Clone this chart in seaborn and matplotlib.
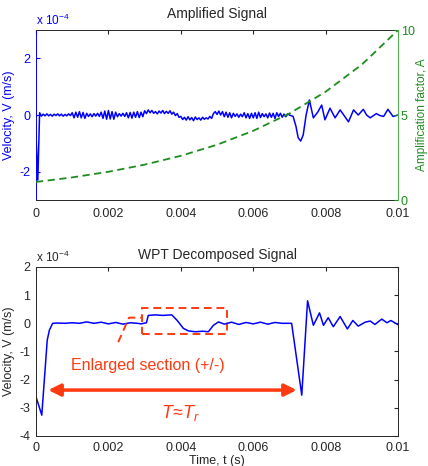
import numpy as np
import pandas as pd
import matplotlib
matplotlib.use('Agg')
import matplotlib.pyplot as plt
import matplotlib.patches as patches
import seaborn as sns

# velocities in units of 1e-4 m/s
# amplified signal, regular part: 0 .. 0.00695 s, step 0.00005 s
amp_noise = [
    -0.7, -2.3, 0.08, -0.04, 0.03, -0.03, 0.04, -0.03, 0.02, -0.04, 0.03, -0.02, 0.04, -0.03, 0.03, -0.04, 0.02, -0.03, 0.04, -0.02,
    0.08, -0.1, 0.1, -0.08, 0.12, -0.1, 0.09, -0.12, 0.06, -0.05, 0.04, -0.06, 0.05, -0.04, 0.06, -0.05, 0.1, -0.12, 0.14, -0.15,
    0.16, -0.14, 0.12, -0.15, 0.1, -0.06, 0.05, -0.04, 0.06, -0.05, 0.08, -0.1, 0.09, -0.11, 0.1, -0.08, 0.12, -0.09, 0.1, -0.06,
    0.15, 0.05, 0.18, 0.08, 0.16, 0.06, 0.12, 0.04, 0.14, 0.07, 0.16, 0.05, 0.13, 0.06, 0.15, 0.03, 0.1, -0.02, 0.05, -0.08,
    -0.05, -0.16, -0.08, -0.18, -0.06, -0.17, -0.09, -0.2, -0.07, -0.16, -0.1, -0.18, -0.08, -0.15, -0.1, -0.14, -0.05, -0.12, 0.05, 0.12,
    0.02, 0.14, 0.0, 0.12, -0.06, 0.1, -0.08, 0.08, -0.1, 0.06, -0.05, 0.04, -0.08, 0.03, -0.06, 0.08, -0.1, 0.05, -0.12, 0.06,
    -0.1, 0.08, -0.12, 0.1, -0.09, 0.05, -0.06, 0.04, -0.1, 0.07, -0.08, 0.06, -0.12, 0.08, -0.05, 0.06, -0.08, 0.03, -0.06, 0.04,
]
# amplified signal, arrival of the reflection
amp_evt_t = [0.0070, 0.00710, 0.00718, 0.00724, 0.00731, 0.00738, 0.00746, 0.00755, 0.00766, 0.00778,
             0.00789, 0.00798, 0.00812, 0.00826, 0.0084, 0.0085, 0.00863, 0.00877, 0.0089, 0.00904,
             0.00913, 0.00923, 0.0094, 0.0095, 0.0096, 0.00972, 0.00986, 0.0100]
amp_evt_v = [0.0, -0.05, -0.4, -0.8, -0.92, -0.7, 0.0, 0.53, -0.1, 0.1,
             0.35, -0.17, 0.24, -0.1, 0.18, 0.0, -0.24, 0.18, 0.0, 0.2,
             0.0, -0.1, 0.05, -0.02, -0.05, 0.2, -0.05, 0.0]

# amplification factor A
fac_t = [0.0, 0.001, 0.002, 0.003, 0.004, 0.005, 0.006, 0.007, 0.008, 0.009, 0.010]
fac_a = [1.06, 1.33, 1.66, 2.08, 2.6, 3.25, 4.07, 5.09, 6.37, 7.97, 10.0]

# WPT decomposed signal
wpt_t = [0.0, 0.00016, 0.00031, 0.00037, 0.00046, 0.0006, 0.0008, 0.001, 0.0012, 0.0014,
         0.0016, 0.0018, 0.002, 0.0022, 0.0024, 0.0026, 0.0028, 0.0029, 0.00305, 0.0031,
         0.0033, 0.0035, 0.00375, 0.0039, 0.00407, 0.00421, 0.0044, 0.0046, 0.00476, 0.0049,
         0.00504, 0.0052, 0.0054, 0.0056, 0.0058, 0.006, 0.0062, 0.0064, 0.0066, 0.0068,
         0.00706, 0.00734, 0.0075, 0.00766, 0.00783, 0.00794, 0.00807, 0.00821, 0.0084, 0.0086,
         0.00875, 0.0089, 0.00909, 0.00923, 0.00936, 0.00955, 0.00969, 0.0098, 0.0100]
wpt_v = [-2.61, -3.26, -0.6, -0.24, 0.0, 0.01, 0.0, 0.02, 0.0, 0.05,
         0.0, 0.04, -0.02, 0.03, -0.03, 0.02, 0.0, -0.02, 0.02, 0.28,
         0.3, 0.28, 0.3, 0.1, -0.18, -0.27, -0.3, -0.28, -0.3, -0.07,
         0.05, -0.03, 0.04, -0.04, 0.03, -0.02, 0.04, -0.03, 0.03, 0.0,
         0.0, -2.55, 0.8, -0.07, 0.37, -0.07, 0.2, -0.12, 0.24, -0.2,
         0.1, -0.1, 0.04, 0.08, -0.04, 0.15, 0.02, 0.1, -0.05]

# annotation geometry (data units)
box_t0, box_t1 = 0.00293, 0.00528
box_v0, box_v1 = -0.39, 0.55
lead_t = [0.00227, 0.00257, 0.0029]
lead_v = [-0.67, 0.2, 0.2]
arrow_t0, arrow_t1, arrow_v = 0.00034, 0.0072, -2.37

sns.set_style('white')
plt.rcParams['font.family'] = ['Liberation Sans', 'DejaVu Sans']
plt.rcParams['mathtext.fontset'] = 'custom'
plt.rcParams['mathtext.rm'] = 'Liberation Sans'
plt.rcParams['mathtext.it'] = 'Liberation Sans:italic'
plt.rcParams['axes.unicode_minus'] = False

RED = '#ff3a10'
BLUE = '#0000ff'
GREEN = '#1e8c1e'
TICK = 9
LAB = 9

amp = pd.DataFrame({
    't': np.concatenate([np.arange(len(amp_noise)) * 0.00005, amp_evt_t]),
    'v': np.concatenate([amp_noise, amp_evt_v]),
})
fac = pd.DataFrame({'t': fac_t, 'a': fac_a})
wpt = pd.DataFrame({'t': wpt_t, 'v': wpt_v})

fig = plt.figure(figsize=(4.28, 4.66), dpi=100)
ax1 = fig.add_axes([0.0841, 0.5708, 0.846, 0.3648])
ax2 = fig.add_axes([0.0841, 0.0644, 0.846, 0.3627])

xt = [0, 0.002, 0.004, 0.006, 0.008, 0.01]
xtl = ['0', '0.002', '0.004', '0.006', '0.008', '0.01']

# ---- top: amplified signal ----
sns.lineplot(data=amp, x='t', y='v', ax=ax1, color=BLUE, lw=1.1, sort=False)
ax1.set_xlim(0, 0.01)
ax1.set_ylim(-3, 3)
ax1.set_xticks(xt)
ax1.set_xticklabels(xtl)
ax1.set_yticks([-2, 0, 2])
ax1.set_xlabel('')
ax1.set_ylabel('Velocity, V (m/s)', color=BLUE, fontsize=LAB, labelpad=3)
ax1.set_title('Amplified Signal', fontsize=10, pad=9)
ax1.tick_params(axis='x', direction='in', top=True, labelsize=TICK, length=3, pad=6)
ax1.tick_params(axis='y', direction='in', right=True, colors=BLUE, labelsize=TICK, length=3, pad=4)
ax1.text(0, 1.01, r'x 10$^{-4}$', transform=ax1.transAxes, color=BLUE, fontsize=8.5,
         ha='left', va='bottom')
for s in ax1.spines.values():
    s.set_linewidth(0.7)
ax1.spines['left'].set_color(BLUE)

axr = ax1.twinx()
sns.lineplot(data=fac, x='t', y='a', ax=axr, color=GREEN, lw=1.3, linestyle=(0, (4, 2.5)))
axr.set_ylim(0, 10)
axr.set_yticks([0, 5, 10])
axr.set_ylabel('Amplification factor, A', color=GREEN, fontsize=8.5, labelpad=1)
axr.tick_params(axis='y', direction='in', colors=GREEN, labelsize=TICK, length=3, pad=2)
axr.spines['right'].set_color('#55b055')
axr.spines['right'].set_linewidth(0.8)
axr.spines['left'].set_visible(False)
axr.spines['top'].set_visible(False)
axr.spines['bottom'].set_visible(False)

# ---- bottom: WPT decomposed signal ----
sns.lineplot(data=wpt, x='t', y='v', ax=ax2, color=BLUE, lw=1.1, sort=False)
ax2.set_xlim(0, 0.01)
ax2.set_ylim(-4, 2)
ax2.set_xticks(xt)
ax2.set_xticklabels(xtl)
ax2.set_yticks([-4, -3, -2, -1, 0, 1, 2])
ax2.set_xlabel('Time, t (s)', fontsize=LAB, labelpad=1)
ax2.set_ylabel('Velocity, V (m/s)', fontsize=LAB, labelpad=3)
ax2.set_title('WPT Decomposed Signal', fontsize=10, pad=6)
ax2.tick_params(direction='in', top=True, right=True, labelsize=TICK, length=3, pad=4)
ax2.text(0, 1.01, r'x 10$^{-4}$', transform=ax2.transAxes, fontsize=8.5,
         ha='left', va='bottom')
for s in ax2.spines.values():
    s.set_linewidth(0.7)

ax2.add_patch(patches.Rectangle((box_t0, box_v0), box_t1 - box_t0, box_v1 - box_v0,
                                fill=False, ec=RED, lw=1.4, ls=(0, (4, 2.5))))
ax2.plot(lead_t, lead_v, color=RED, lw=1.4, ls=(0, (4, 2.5)))
ax2.text(0.0031, -1.5, 'Enlarged section (+/-)', color=RED, fontsize=11.5,
         ha='center', va='center')
ax2.annotate('', xy=(arrow_t0, arrow_v), xytext=(arrow_t1, arrow_v),
             arrowprops=dict(arrowstyle='<|-|>', color=RED, lw=2.5,
                             mutation_scale=18, shrinkA=0, shrinkB=0))
ax2.text(0.004, -3.18, r'$T\!\approx\!T_r$', color=RED, fontsize=13,
         ha='center', va='center')

fig.savefig('out.png', dpi=100)
